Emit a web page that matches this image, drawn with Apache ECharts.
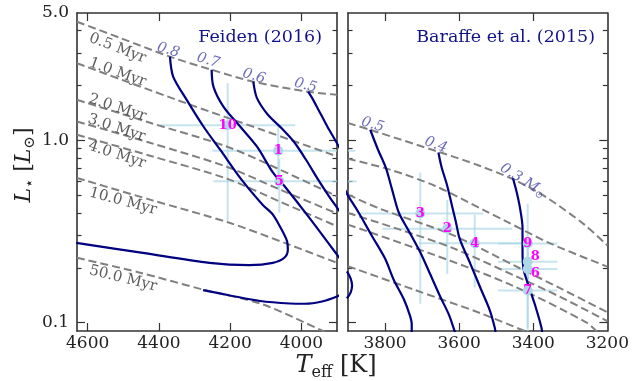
<!DOCTYPE html>
<html><head><meta charset="utf-8">
<script src="https://cdn.jsdelivr.net/npm/echarts@6/dist/echarts.min.js"></script>
<style>html,body{margin:0;padding:0;background:#fff}#c{width:632px;height:381px}</style>
</head><body><div id="c"></div>
<script>
// ================= DATA =================
// Axis ticks / labels
const xTicksLeft = [4000, 4200, 4400, 4600];
const xTicksRight = [3200, 3400, 3600, 3800];
const yMajorTicks = [0.1, 1];
const yMinorTicks = [0.2, 0.3, 0.4, 0.5, 0.6, 0.7, 0.8, 0.9, 2, 3, 4];
const yTickLabels = [0.1, 1, 5];

// Isochrone ages (Myr)
const ageLabels = ['0.5', '1.0', '2.0', '3.0', '4.0', '10.0', '50.0'];

// Feiden (2016) isochrones: Teff [K], L [Lsun]
const feidenIso05T = [4630, 4509, 4369, 4252, 4135, 3981, 3900];
const feidenIso05L = [4.48, 3.65, 2.88, 2.44, 2.10, 1.85, 1.78];
const feidenIso1T = [4630, 4324, 4109, 3900];
const feidenIso1L = [2.65, 1.60, 1.14, 0.817];
const feidenIso2T = [4630, 4425, 4210, 4060, 3900];
const feidenIso2L = [1.67, 1.25, 0.926, 0.691, 0.493];
const feidenIso3T = [4630, 4425, 4210, 4060, 3900];
const feidenIso3L = [1.27, 0.970, 0.717, 0.537, 0.397];
const feidenIso4T = [4630, 4425, 4210, 4060, 3900];
const feidenIso4L = [1.074, 0.824, 0.617, 0.461, 0.338];
const feidenIso10T = [4630, 4425, 4202, 4034, 3900];
const feidenIso10L = [0.622, 0.473, 0.353, 0.268, 0.213];
const feidenIso50T = [4630, 4453, 4277, 4109, 3939, 3920];
const feidenIso50L = [0.227, 0.188, 0.152, 0.126, 0.090, 0.087];

// Feiden (2016) mass tracks
const feidenMasses = ['0.8', '0.7', '0.6', '0.5'];
const feiden08T = [4369, 4360, 4322, 4275, 4228, 4168, 4109, 4080, 4048, 4040, 4038, 4048, 4080, 4146, 4258, 4445, 4632];
const feiden08L = [2.88, 2.24, 1.669, 1.192, 0.889, 0.609, 0.444, 0.392, 0.304, 0.279, 0.252, 0.227, 0.213, 0.207, 0.213, 0.2415, 0.274];
const feiden07T = [4252, 4247, 4219, 4172, 4125, 4079, 4046, 3978, 3900, 3878];
const feiden07L = [2.44, 1.974, 1.534, 1.192, 0.926, 0.6625, 0.557, 0.377, 0.236, 0.206];
const feiden06T = [4135, 4125, 4094, 4054, 4021, 3987, 3953, 3920, 3900, 3878];
const feiden06L = [2.10, 1.712, 1.382, 1.158, 0.983, 0.783, 0.609, 0.485, 0.428, 0.372];
const feiden05T = [3981, 3970, 3957, 3940, 3922, 3900, 3878];
const feiden05L = [1.854, 1.712, 1.534, 1.330, 1.144, 0.964, 0.803];
const feidenLowT = [4276, 4200, 4116, 4032, 3990, 3942, 3900, 3878];
const feidenLowL = [0.1508, 0.141, 0.1315, 0.1274, 0.127, 0.1307, 0.1392, 0.1464];

// Baraffe et al. (2015) isochrones
const baraffeIso05T = [3900, 3841, 3652, 3545, 3442, 3362, 3262, 3200];
const baraffeIso05L = [1.245, 1.144, 0.861, 0.726, 0.596, 0.483, 0.345, 0.265];
const baraffeIso1T = [3900, 3787, 3666, 3531, 3477, 3354, 3200];
const baraffeIso1L = [0.793, 0.691, 0.564, 0.412, 0.363, 0.272, 0.203];
const baraffeIso2T = [3900, 3814, 3620, 3445, 3329, 3200];
const baraffeIso2L = [0.504, 0.422, 0.304, 0.203, 0.155, 0.114];
const baraffeIso3T = [3900, 3760, 3620, 3445, 3329, 3200];
const baraffeIso3L = [0.400, 0.324, 0.258, 0.179, 0.139, 0.102];
const baraffeIso4T = [3900, 3633, 3454, 3256, 3221];
const baraffeIso4L = [0.345, 0.222, 0.159, 0.100, 0.086];
const baraffeIso10T = [3900, 3723, 3544, 3400];
const baraffeIso10L = [0.204, 0.152, 0.113, 0.086];

// Baraffe et al. (2015) mass tracks
const baraffeMasses = ['0.5', '0.4', '0.3'];
const baraffe05T = [3840, 3819, 3798, 3781, 3763, 3738, 3706, 3679, 3650, 3628, 3612, 3609];
const baraffe05L = [1.144, 0.889, 0.708, 0.537, 0.402, 0.324, 0.2455, 0.186, 0.1375, 0.111, 0.0895, 0.0855];
const baraffe04T = [3656, 3647, 3633, 3620, 3609, 3598, 3570, 3542, 3518, 3504, 3501];
const baraffe04L = [0.859, 0.708, 0.5715, 0.444, 0.358, 0.286, 0.211, 0.154, 0.118, 0.094, 0.0855];
const baraffe03T = [3455, 3445, 3436, 3429, 3429, 3426, 3413, 3394, 3378, 3375];
const baraffe03L = [0.622, 0.523, 0.428, 0.332, 0.2455, 0.196, 0.160, 0.1227, 0.0942, 0.0855];
const baraffeHiT = [3908, 3900, 3873, 3835, 3800, 3777, 3749, 3733, 3728, 3728];
const baraffeHiL = [0.537, 0.4975, 0.407, 0.298, 0.2247, 0.1725, 0.134, 0.1096, 0.0978, 0.0862];
const baraffeArcT = [3903, 3893, 3889, 3893, 3903];
const baraffeArcL = [0.191, 0.175, 0.160, 0.146, 0.136];

// Stars
const starNames = ['1', '2', '3', '4', '5', '6', '7', '8', '9', '10'];
const starTeff = [4065, 3632, 3705, 3558, 4062, 3415, 3415, 3415, 3415, 4207];
const starTeffErr = [185, 175, 170, 150, 185, 80, 80, 80, 80, 190];
const starLum = [0.877, 0.328, 0.397, 0.273, 0.596, 0.197, 0.150, 0.216, 0.272, 1.21];
const starLumErr = [0.34, 0.143, 0.27, 0.117, 0.195, 0.05, 0.065, 0.05, 0.178, 0.85];

// ================= STYLE / LAYOUT =================
const SERIF = '"DejaVu Serif", "Liberation Serif", serif';
const SPINE = '#333333';
const NAVY = '#000080';
const MASSCOL = '#4646a8';
const yLogMin = 0.09, yLogMax = 5;
const lg = Math.log10;

// desired on-screen offsets of label centres from their anchors (px)
const ageOffsets = [[40.5, 26.6], [40.5, 9.2], [40.5, 8], [39.5, 6.6], [40, 20], [46, 23.4], [46, 20.7]];
const ageRot = [-21, -20, -18, -18, -18, -15, -14];
const feidenMassOff = [[-1.7, -6.5], [-3.4, -9.3], [0.7, -5.5], [-2.6, -6]];
const feidenMassRot = [-17, -17, -17, -15];
const baraffeMassOff = [[2.4, -5], [-2.5, -7.5], [10, 2.4]];
const baraffeMassRot = [-17, -20, -32];
const starLabelOffsets = { '8': [7.5, -4.6], '6': [7.5, 5] };

// ECharts rotates a label's offset together with the label; undo that
function unrot(off, rotDeg) {
  const r = rotDeg * Math.PI / 180, c = Math.cos(r), s = Math.sin(r);
  return [off[0] * c - off[1] * s, off[0] * s + off[1] * c];
}

const zip = (T, L) => T.map((t, i) => [t, L[i]]);

const grids = [
  { left: 77, top: 13, width: 260, height: 318 },
  { left: 348, top: 13, width: 260, height: 318 }
];

const tickLine = { color: SPINE, width: 1.2 };
function xAxisPair(gi, min, max, ticks) {
  const base = {
    gridIndex: gi, type: 'value', inverse: true, min: min, max: max,
    splitLine: { show: false },
    axisLine: { show: true, onZero: false, lineStyle: { color: SPINE, width: 1.6 } },
    axisTick: { show: true, inside: true, length: 8, customValues: ticks.filter(v => v > min && v < max), lineStyle: tickLine }
  };
  return [
    Object.assign({}, base, { position: 'bottom',
      axisLabel: { show: true, customValues: ticks, formatter: v => String(v), fontSize: 17, color: '#222', fontFamily: SERIF, margin: 4 } }),
    Object.assign({}, base, { position: 'top', axisLabel: { show: false } })
  ];
}
function yAxesFor(gi, withLabels) {
  const lmin = lg(yLogMin), lmax = lg(yLogMax);
  const common = { gridIndex: gi, type: 'value', min: lmin, max: lmax, splitLine: { show: false } };
  const maj = yMajorTicks.map(lg), mnr = yMinorTicks.map(lg);
  return [
    { gridIndex: gi, type: 'log', logBase: 10, min: yLogMin, max: yLogMax, show: false, position: 'left' },
    Object.assign({}, common, { position: 'left',
      axisLine: { show: true, onZero: false, lineStyle: { color: SPINE, width: 1.6 } },
      axisTick: { show: true, inside: true, length: 8, customValues: maj, lineStyle: tickLine },
      axisLabel: withLabels ? { show: true, customValues: yTickLabels.map(lg), formatter: v => Math.pow(10, v).toFixed(1), fontSize: 17, color: '#222', fontFamily: SERIF, margin: 8 } : { show: false } }),
    Object.assign({}, common, { position: 'left', axisLine: { show: false, onZero: false },
      axisTick: { show: true, inside: true, length: 4.5, customValues: mnr, lineStyle: tickLine }, axisLabel: { show: false } }),
    Object.assign({}, common, { position: 'right',
      axisLine: { show: true, onZero: false, lineStyle: { color: SPINE, width: 1.6 } },
      axisTick: { show: true, inside: true, length: 8, customValues: maj, lineStyle: tickLine }, axisLabel: { show: false } }),
    Object.assign({}, common, { position: 'right', axisLine: { show: false, onZero: false },
      axisTick: { show: true, inside: true, length: 4.5, customValues: mnr, lineStyle: tickLine }, axisLabel: { show: false } })
  ];
}

const xAxes = [].concat(xAxisPair(0, 3900, 4630, xTicksLeft), xAxisPair(1, 3200, 3900, xTicksRight));
const yAxes = [].concat(yAxesFor(0, true), yAxesFor(1, false));
// data axes: left grid x0/y0, right grid x2/y5

function lineSeries(T, L, xi, yi, kind) {
  const iso = kind === 'iso';
  return {
    type: 'line', xAxisIndex: xi, yAxisIndex: yi, data: zip(T, L),
    showSymbol: false, symbol: 'none', smooth: 0.3, silent: true, clip: true,
    lineStyle: iso ? { color: '#808080', width: 2, type: [8, 4] } : { color: NAVY, width: 2.2 },
    z: iso ? 2 : 3
  };
}

function errSeries(xi, yi) {
  return {
    type: 'custom', xAxisIndex: xi, yAxisIndex: yi, silent: true, z: 1, clip: true,
    data: starTeff.map((t, i) => [t, starLum[i], starTeffErr[i], starLumErr[i]]),
    encode: { x: 0, y: 1 },
    renderItem: function (params, api) {
      const cs = params.coordSys;
      const x0 = cs.x, x1 = cs.x + cs.width, y0 = cs.y, y1 = cs.y + cs.height;
      const t = api.value(0), l = api.value(1), te = api.value(2), le = api.value(3);
      const a = api.coord([t - te, l]), b = api.coord([t + te, l]);
      const c = api.coord([t, l - le]), d = api.coord([t, l + le]);
      const style = { stroke: 'rgba(173,216,230,0.7)', lineWidth: 2 };
      const children = [];
      const hy = a[1];
      const hx0 = Math.max(Math.min(a[0], b[0]), x0), hx1 = Math.min(Math.max(a[0], b[0]), x1);
      if (hy >= y0 && hy <= y1 && hx1 > hx0) children.push({ type: 'line', shape: { x1: hx0, y1: hy, x2: hx1, y2: hy }, style: style });
      const vx = c[0];
      const vy0 = Math.max(Math.min(c[1], d[1]), y0), vy1 = Math.min(Math.max(c[1], d[1]), y1);
      if (vx >= x0 && vx <= x1 && vy1 > vy0) children.push({ type: 'line', shape: { x1: vx, y1: vy0, x2: vx, y2: vy1 }, style: style });
      return { type: 'group', children: children };
    }
  };
}

function starSeries(xi, yi) {
  return {
    type: 'scatter', xAxisIndex: xi, yAxisIndex: yi, symbol: 'circle', symbolSize: 10, clip: true, z: 4, silent: true,
    itemStyle: { color: '#add8e6', opacity: 1 },
    data: starNames.map((n, i) => ({ name: n, value: [starTeff[i], starLum[i]], label: { offset: starLabelOffsets[n] || [0, 0] } })),
    label: { show: true, position: 'inside', formatter: '{b}', color: '#ff00ff', fontWeight: 'bold', fontSize: 13, fontFamily: SERIF, textBorderWidth: 0 }
  };
}

function anchorSeries(xi, yi, items, baseLabel) {
  return {
    type: 'scatter', xAxisIndex: xi, yAxisIndex: yi, symbolSize: 1, clip: false, z: 5, silent: true,
    itemStyle: { color: 'rgba(0,0,0,0)' },
    label: Object.assign({ show: true, position: 'inside', textBorderWidth: 0 }, baseLabel),
    data: items
  };
}

const feidenIsoT = [feidenIso05T, feidenIso1T, feidenIso2T, feidenIso3T, feidenIso4T, feidenIso10T, feidenIso50T];
const feidenIsoL = [feidenIso05L, feidenIso1L, feidenIso2L, feidenIso3L, feidenIso4L, feidenIso10L, feidenIso50L];
const feidenTrT = [feiden08T, feiden07T, feiden06T, feiden05T];
const feidenTrL = [feiden08L, feiden07L, feiden06L, feiden05L];
const baraffeIsoT = [baraffeIso05T, baraffeIso1T, baraffeIso2T, baraffeIso3T, baraffeIso4T, baraffeIso10T];
const baraffeIsoL = [baraffeIso05L, baraffeIso1L, baraffeIso2L, baraffeIso3L, baraffeIso4L, baraffeIso10L];
const baraffeTrT = [baraffe05T, baraffe04T, baraffe03T];
const baraffeTrL = [baraffe05L, baraffe04L, baraffe03L];

const series = [];
series.push(errSeries(0, 0), errSeries(2, 5));
feidenIsoT.forEach((T, i) => series.push(lineSeries(T, feidenIsoL[i], 0, 0, 'iso')));
baraffeIsoT.forEach((T, i) => series.push(lineSeries(T, baraffeIsoL[i], 2, 5, 'iso')));
feidenTrT.forEach((T, i) => series.push(lineSeries(T, feidenTrL[i], 0, 0, 'track')));
series.push(lineSeries(feidenLowT, feidenLowL, 0, 0, 'track'));
baraffeTrT.forEach((T, i) => series.push(lineSeries(T, baraffeTrL[i], 2, 5, 'track')));
series.push(lineSeries(baraffeHiT, baraffeHiL, 2, 5, 'track'));
series.push(lineSeries(baraffeArcT, baraffeArcL, 2, 5, 'track'));
series.push(starSeries(0, 0), starSeries(2, 5));

// age labels anchored at the left end of each Feiden isochrone
series.push(anchorSeries(0, 0, ageLabels.map((a, i) => ({
  value: [feidenIsoT[i][0], feidenIsoL[i][0]],
  label: { formatter: a + ' Myr', offset: unrot(ageOffsets[i], ageRot[i]), rotate: ageRot[i] }
})), { color: '#333', fontSize: 15, fontFamily: SERIF }));
// mass labels anchored at the start of each track
series.push(anchorSeries(0, 0, feidenMasses.map((m, i) => ({
  value: [feidenTrT[i][0], feidenTrL[i][0]],
  label: { formatter: m, offset: unrot(feidenMassOff[i], feidenMassRot[i]), rotate: feidenMassRot[i] }
})), { color: MASSCOL, fontSize: 14.5, fontStyle: 'italic', fontFamily: SERIF }));
series.push(anchorSeries(2, 5, baraffeMasses.map((m, i) => ({
  value: [baraffeTrT[i][0], baraffeTrL[i][0]],
  label: {
    formatter: i === baraffeMasses.length - 1 ? '{n|' + m + ' M}{s|⊙}' : '{n|' + m + '}',
    offset: unrot(baraffeMassOff[i], baraffeMassRot[i]), rotate: baraffeMassRot[i]
  }
})), {
  color: MASSCOL, fontSize: 14.5, fontStyle: 'italic', fontFamily: SERIF,
  rich: {
    n: { color: MASSCOL, fontSize: 14.5, fontStyle: 'italic', fontFamily: SERIF, lineHeight: 18 },
    s: { color: MASSCOL, fontSize: 10, fontFamily: SERIF, verticalAlign: 'bottom', lineHeight: 12 }
  }
}));

const chart = echarts.init(document.getElementById('c'), null, { renderer: 'canvas' });
chart.setOption({
  animation: false,
  backgroundColor: '#ffffff',
  grid: grids,
  xAxis: xAxes,
  yAxis: yAxes,
  series: series,
  graphic: [
    { type: 'text', x: 322, y: 37, silent: true, z: 10,
      style: { text: 'Feiden (2016)', align: 'right', verticalAlign: 'middle', fill: '#12128a', fontSize: 17.5, fontFamily: SERIF } },
    { type: 'text', x: 595, y: 37, silent: true, z: 10,
      style: { text: 'Baraffe et al. (2015)', align: 'right', verticalAlign: 'middle', fill: '#12128a', fontSize: 17.5, fontFamily: SERIF } },
    { type: 'text', x: 336, y: 366, silent: true, z: 10,
      style: { text: '{i|T}{s|eff} [K]', align: 'center', verticalAlign: 'middle', fill: '#222', fontSize: 24, fontFamily: SERIF,
        rich: {
          i: { fontStyle: 'italic', fontSize: 24, fontFamily: SERIF, fill: '#222', lineHeight: 30 },
          s: { fontSize: 16, fontFamily: SERIF, fill: '#222', verticalAlign: 'bottom', lineHeight: 17 }
        } } },
    { type: 'text', x: 24, y: 165, rotation: Math.PI / 2, silent: true, z: 10,
      style: { text: '{i|L}{s|⋆} [{i|L}{s|⊙}]', align: 'center', verticalAlign: 'middle', fill: '#222', fontSize: 22, fontFamily: SERIF,
        rich: {
          i: { fontStyle: 'italic', fontSize: 22, fontFamily: SERIF, fill: '#222', lineHeight: 28 },
          s: { fontSize: 15, fontFamily: SERIF, fill: '#222', verticalAlign: 'bottom', lineHeight: 16 }
        } } }
  ]
});
</script>
</body></html>
